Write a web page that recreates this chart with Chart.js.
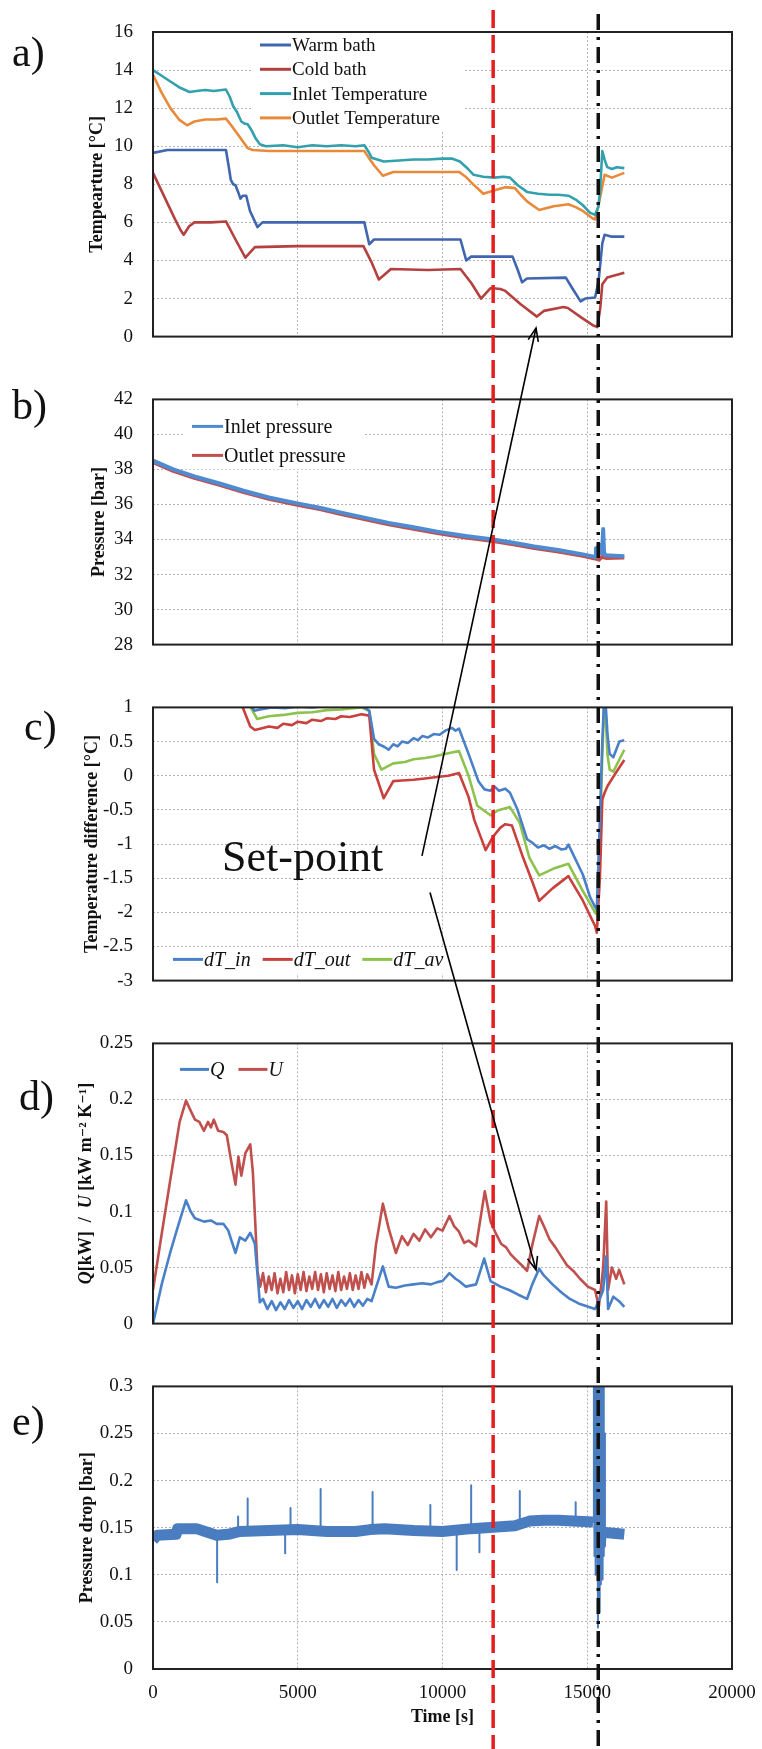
<!DOCTYPE html>
<html><head><meta charset="utf-8">
<script src="https://cdn.jsdelivr.net/npm/chart.js@4.4.1/dist/chart.umd.min.js"></script>
<style>
html,body{margin:0;padding:0;background:#fff;}
#wrap{position:relative;width:762px;height:1749px;overflow:hidden;background:#fff;}
canvas.c{position:absolute;left:0;}
#overlay{position:absolute;left:0;top:0;pointer-events:none;z-index:5;}
.lbl{position:absolute;font-family:"Liberation Serif","DejaVu Serif",serif;font-size:42px;line-height:42px;color:#111;white-space:nowrap;z-index:6;}
</style></head><body>
<div id="wrap">
<canvas id="cA" class="c" width="762" height="368" style="top:0px"></canvas>
<canvas id="cB" class="c" width="762" height="308" style="top:368px"></canvas>
<canvas id="cC" class="c" width="762" height="336" style="top:676px"></canvas>
<canvas id="cD" class="c" width="762" height="343" style="top:1012px"></canvas>
<canvas id="cE" class="c" width="762" height="394" style="top:1355px"></canvas>
<canvas id="overlay" width="762" height="1749"></canvas>
<div class="lbl" style="left:12px;top:31px">a)</div>
<div class="lbl" style="left:12px;top:384px">b)</div>
<div class="lbl" style="left:24px;top:705px">c)</div>
<div class="lbl" style="left:19px;top:1075px">d)</div>
<div class="lbl" style="left:12px;top:1400px">e)</div>
<div class="lbl" style="left:222px;top:835px;font-size:44px;line-height:44px">Set-point</div>
</div>
<script>
// ---------- DATA ----------
const xTicksMin = 0, xTicksMax = 20000, xTickStep = 5000;
// a) temperatures [s, °C]
const warmBath = [[0,9.65],[500,9.8],[1000,9.8],[2000,9.8],[2520,9.8],[2620,8.9],[2685,8.25],[2770,8.0],[2850,7.95],[2940,7.6],[3020,7.25],[3100,7.4],[3220,7.4],[3350,6.6],[3610,5.75],[3780,6.0],[5000,6.0],[6000,6.0],[7300,6.0],[7470,4.85],[7635,5.1],[9000,5.1],[10620,5.1],[10820,4.0],[10990,4.2],[12420,4.2],[12600,3.5],[12750,2.85],[12920,3.05],[14260,3.1],[14500,2.5],[14770,1.85],[14930,2.0],[15270,2.05],[15390,2.9],[15520,4.9],[15600,5.35],[15850,5.25],[16280,5.25]];
const coldBath = [[0,8.6],[250,7.8],[500,7.0],[750,6.2],[950,5.6],[1060,5.35],[1250,5.8],[1430,6.0],[2000,6.0],[2520,6.05],[2850,5.1],[3190,4.15],[3520,4.7],[5000,4.75],[7270,4.75],[7550,3.9],[7800,3.0],[8220,3.55],[9500,3.5],[10620,3.55],[11000,2.8],[11330,2.0],[11660,2.55],[12000,2.5],[12170,2.4],[12700,1.7],[13260,1.05],[13500,1.35],[14180,1.55],[14330,1.5],[14800,1.0],[15190,0.6],[15350,0.5],[15450,1.5],[15520,2.75],[15690,3.1],[16280,3.35]];
const inletTemp = [[0,14.0],[300,13.7],[600,13.4],[900,13.1],[1260,12.85],[1500,12.9],[1800,12.95],[2100,12.9],[2520,12.98],[2650,12.6],[2770,12.1],[2900,11.8],[3050,11.3],[3150,11.2],[3270,11.15],[3400,10.85],[3550,10.4],[3690,10.1],[3900,10.0],[4500,10.05],[5000,9.95],[5500,10.05],[6000,10.0],[6500,10.05],[7000,10.0],[7300,10.05],[7450,9.7],[7550,9.4],[7970,9.2],[8500,9.25],[9000,9.3],[9500,9.3],[10000,9.35],[10320,9.35],[10600,9.2],[10820,8.9],[11075,8.5],[11400,8.4],[11800,8.35],[12100,8.4],[12330,8.35],[12600,7.95],[12920,7.6],[13300,7.5],[13700,7.45],[14000,7.45],[14350,7.4],[14600,7.2],[14850,6.9],[15100,6.5],[15270,6.4],[15380,6.8],[15440,7.6],[15520,9.75],[15600,9.3],[15690,8.9],[15850,8.8],[16025,8.9],[16280,8.85]];
const outletTemp = [[0,13.75],[300,12.8],[600,12.0],[900,11.4],[1175,11.1],[1430,11.3],[1800,11.4],[2200,11.4],[2520,11.45],[2700,11.1],[2940,10.6],[3270,9.9],[3440,9.8],[4000,9.75],[5000,9.75],[6000,9.75],[7300,9.75],[7450,9.4],[7635,9.0],[7940,8.45],[8300,8.65],[9000,8.65],[10000,8.65],[10570,8.65],[10800,8.4],[10990,8.1],[11410,7.5],[11830,7.7],[12170,7.85],[12500,7.8],[12700,7.45],[12920,7.1],[13340,6.65],[13840,6.85],[14350,6.95],[14600,6.8],[14850,6.6],[15190,6.2],[15270,6.15],[15390,6.9],[15520,7.9],[15600,8.5],[15850,8.35],[16280,8.6]];
// b) pressures [s, bar]
const inletPressure = [[0,38.5],[700,38.0],[1430,37.6],[2300,37.2],[3100,36.8],[4000,36.4],[5030,36.05],[5800,35.8],[6460,35.55],[7300,35.25],[8140,34.95],[9000,34.7],[9820,34.45],[10800,34.2],[11750,34.0],[12500,33.8],[13170,33.6],[14000,33.4],[14850,33.15],[15270,33.0],[15300,33.5],[15340,33.1],[15380,33.6],[15420,33.2],[15470,33.7],[15510,33.2],[15550,34.6],[15580,33.3],[15620,33.1],[16280,33.05]];
const outletPressure = [[0,38.42],[700,37.92],[1430,37.52],[2300,37.12],[3100,36.72],[4000,36.32],[5030,35.97],[5800,35.72],[6460,35.47],[7300,35.17],[8140,34.87],[9000,34.62],[9820,34.37],[10800,34.12],[11750,33.92],[12500,33.72],[13170,33.52],[14000,33.32],[14850,33.07],[15270,32.92],[15400,32.85],[15500,33.0],[15650,32.95],[16280,32.97]];
// c) temperature differences [s, °C]
const dTin = [[0,1.6],[2500,1.5],[3000,1.3],[3300,1.1],[3500,0.95],[3700,0.97],[4100,1.0],[4600,0.99],[5000,1.01],[5500,1.0],[6000,1.02],[6500,1.01],[7200,1.03],[7470,0.95],[7635,0.54],[7800,0.46],[8000,0.42],[8140,0.38],[8300,0.46],[8450,0.43],[8600,0.5],[8800,0.48],[9000,0.55],[9150,0.52],[9300,0.58],[9500,0.56],[9700,0.61],[9900,0.6],[10100,0.66],[10320,0.7],[10450,0.66],[10570,0.69],[10900,0.32],[11240,-0.08],[11450,-0.2],[11660,-0.22],[11800,-0.16],[11950,-0.22],[12170,-0.19],[12330,-0.25],[12585,-0.49],[12920,-0.93],[13100,-0.98],[13300,-1.05],[13500,-1.02],[13700,-1.07],[13900,-1.03],[14100,-1.08],[14260,-1.07],[14350,-1.01],[14850,-1.45],[15100,-1.78],[15270,-1.92],[15330,-1.96],[15440,-0.58],[15520,0.5],[15600,1.3],[15700,0.6],[15775,0.32],[15900,0.27],[16110,0.5],[16280,0.52]];
const dTout = [[0,1.8],[2800,1.3],[3100,1.0],[3360,0.72],[3520,0.67],[3800,0.7],[4000,0.72],[4300,0.7],[4500,0.76],[4800,0.74],[5000,0.79],[5300,0.77],[5500,0.82],[5800,0.8],[6000,0.84],[6300,0.83],[6500,0.87],[6800,0.86],[7200,0.9],[7470,0.88],[7635,0.09],[7970,-0.33],[8300,-0.08],[8600,-0.07],[9000,-0.06],[9400,-0.04],[9800,-0.02],[10200,0.0],[10570,0.04],[10900,-0.31],[11100,-0.65],[11490,-1.09],[11750,-0.89],[12000,-0.76],[12170,-0.71],[12400,-0.73],[12750,-1.16],[13100,-1.55],[13340,-1.83],[13800,-1.65],[14350,-1.47],[14850,-1.83],[15270,-2.2],[15330,-2.3],[15440,-1.47],[15520,-0.35],[15600,-0.25],[15700,-0.15],[16000,0.05],[16280,0.23]];
const dTav = [[0,1.7],[3000,1.3],[3300,1.05],[3440,0.95],[3600,0.83],[4000,0.87],[4500,0.89],[5000,0.92],[5500,0.93],[6000,0.96],[6500,0.97],[7200,1.0],[7470,0.95],[7635,0.32],[7890,0.09],[8300,0.18],[8700,0.2],[9000,0.24],[9400,0.26],[9700,0.28],[10000,0.31],[10320,0.34],[10570,0.36],[10900,0.0],[11200,-0.44],[11660,-0.58],[11900,-0.51],[12330,-0.46],[12670,-0.69],[13000,-1.2],[13340,-1.46],[13840,-1.36],[14350,-1.29],[14850,-1.69],[15270,-2.0],[15330,-2.03],[15440,-1.02],[15520,0.3],[15600,1.2],[15700,0.3],[15775,0.09],[15900,0.06],[16280,0.38]];
// d) Q [kW] and U [kW m-2 K-1]
const heatQ = [[0,0.0],[300,0.035],[590,0.063],[900,0.09],[1140,0.11],[1300,0.1],[1450,0.094],[1760,0.091],[2000,0.092],[2200,0.089],[2430,0.089],[2600,0.083],[2850,0.063],[3000,0.077],[3190,0.074],[3360,0.081],[3520,0.071],[3690,0.019],[3800,0.022],[3950,0.013],[4100,0.02],[4250,0.012],[4400,0.019],[4550,0.013],[4700,0.021],[4850,0.014],[5000,0.02],[5150,0.013],[5300,0.021],[5450,0.015],[5600,0.022],[5750,0.014],[5900,0.021],[6050,0.015],[6200,0.022],[6350,0.014],[6500,0.021],[6650,0.016],[6800,0.022],[6950,0.015],[7100,0.021],[7250,0.016],[7400,0.022],[7550,0.02],[7940,0.051],[8140,0.033],[8390,0.032],[8700,0.034],[9000,0.035],[9300,0.036],[9600,0.035],[9820,0.037],[10000,0.038],[10240,0.045],[10450,0.04],[10570,0.038],[10800,0.033],[11160,0.035],[11440,0.058],[11660,0.038],[12000,0.033],[12300,0.03],[12600,0.026],[12920,0.022],[13100,0.035],[13340,0.049],[13500,0.043],[13800,0.035],[14100,0.028],[14400,0.022],[14700,0.018],[14930,0.016],[15270,0.013],[15400,0.02],[15550,0.03],[15655,0.06],[15720,0.013],[15900,0.024],[16100,0.02],[16280,0.015]];
const heatU = [[0,0.03],[300,0.08],[590,0.127],[920,0.18],[1140,0.199],[1300,0.19],[1450,0.182],[1600,0.18],[1760,0.172],[1900,0.18],[2000,0.175],[2100,0.182],[2250,0.172],[2430,0.171],[2550,0.168],[2700,0.145],[2850,0.124],[2950,0.149],[3050,0.132],[3190,0.152],[3360,0.16],[3450,0.135],[3610,0.047],[3700,0.033],[3800,0.045],[3900,0.028],[4000,0.042],[4100,0.03],[4200,0.045],[4300,0.027],[4400,0.04],[4500,0.028],[4600,0.046],[4700,0.03],[4800,0.043],[4900,0.027],[5000,0.044],[5100,0.03],[5200,0.046],[5300,0.029],[5400,0.042],[5500,0.031],[5600,0.046],[5700,0.03],[5800,0.044],[5900,0.028],[6000,0.045],[6100,0.031],[6200,0.043],[6300,0.029],[6400,0.046],[6500,0.03],[6600,0.042],[6700,0.031],[6800,0.045],[6900,0.03],[7000,0.043],[7100,0.031],[7200,0.046],[7300,0.032],[7400,0.044],[7550,0.035],[7700,0.07],[7940,0.107],[8140,0.085],[8390,0.063],[8600,0.078],[8800,0.07],[9000,0.08],[9200,0.074],[9400,0.084],[9600,0.077],[9820,0.085],[10000,0.083],[10240,0.096],[10400,0.087],[10570,0.082],[10750,0.072],[10900,0.074],[11160,0.069],[11460,0.118],[11660,0.091],[11850,0.08],[12030,0.071],[12200,0.068],[12350,0.062],[12500,0.058],[12700,0.053],[12920,0.047],[13100,0.07],[13340,0.096],[13500,0.087],[13700,0.075],[13900,0.068],[14100,0.06],[14300,0.052],[14520,0.047],[14750,0.04],[15020,0.033],[15270,0.03],[15400,0.015],[15550,0.05],[15655,0.109],[15720,0.03],[15850,0.05],[16000,0.04],[16100,0.048],[16280,0.035]];
// e) pressure drop [s, bar]
const dropBase = [[0,0.137],[150,0.142],[800,0.143],[850,0.149],[1500,0.149],[1800,0.146],[2200,0.142],[2600,0.143],[3000,0.146],[4000,0.147],[5000,0.148],[6000,0.146],[7000,0.146],[7500,0.148],[8000,0.149],[9000,0.147],[10000,0.146],[11000,0.149],[12000,0.151],[12500,0.152],[13000,0.157],[13500,0.158],[14000,0.158],[14500,0.157],[15200,0.156],[15400,null],[15620,0.145],[16280,0.143]];
const dropSpikeT = [2215,2940,3270,4565,4750,5790,7585,9580,10490,10990,11275,12670,14600];
const dropSpikeV = [0.092,0.162,0.181,0.123,0.171,0.191,0.188,0.174,0.105,0.195,0.124,0.189,0.177];
const dropSpikeBase = [0.142,0.146,0.146,0.147,0.147,0.146,0.148,0.147,0.147,0.149,0.149,0.152,0.157];
const dropBurst = [[15200,0.156],[15230,0.31],[15250,0.12],[15270,0.31],[15290,0.1],[15310,0.31],[15330,0.13],[15350,0.31],[15370,0.044],[15390,0.31],[15410,0.06],[15430,0.31],[15450,0.09],[15470,0.31],[15490,0.1],[15510,0.31],[15530,0.095],[15550,0.31],[15570,0.12],[15590,0.25],[15610,0.13],[15630,0.145]];
// markers
const setPointLineT = 11750;   // red dashed
const restartLineT = 15380;    // black dash-dot
const arrowTails = [[9291,-1.175],[9568,-1.71]];           // in panel c
const arrowTips = [['A',13230,0.45],['D',13230,0.048]];    // panels a, d

// ---------- HELPERS ----------
const SERIF = '"Liberation Serif","DejaVu Serif",serif';
const pts = a => a.map(p => ({x:p[0], y:p[1]}));
const fmt = v => String(Math.round(v*100)/100);

const framePlugin = {
  id:'frameLegend',
  afterDatasetsDraw(chart, args, o){
    const {ctx, chartArea:ca} = chart;
    ctx.save();
    if (o && o.show){
      if (o.box){ ctx.fillStyle='#fff'; ctx.fillRect(ca.left+o.box[0], ca.top+o.box[1], o.box[2], o.box[3]); }
      ctx.font = (o.italic?'italic ':'') + o.size + 'px ' + SERIF;
      ctx.textBaseline='middle'; ctx.textAlign='left';
      let x = ca.left + o.x, y = ca.top + o.y;
      chart.data.datasets.forEach(ds => {
        if (!ds.label) return;
        ctx.strokeStyle = ds.borderColor; ctx.lineWidth = 3; ctx.lineCap='butt';
        ctx.beginPath(); ctx.moveTo(x, y); ctx.lineTo(x + o.line, y); ctx.stroke();
        ctx.fillStyle = '#111';
        ctx.fillText(ds.label, x + o.line + 1, y + 1);
        if (o.horizontal) x += o.line + 1 + ctx.measureText(ds.label).width + o.gap;
        else y += o.dy;
      });
    }
    ctx.strokeStyle = '#222'; ctx.lineWidth = 2;
    ctx.strokeRect(ca.left, ca.top, ca.right-ca.left, ca.bottom-ca.top);
    ctx.restore();
  },
  afterDraw(chart, args, o){
    if (!o || !o.richTitle) return;
    const {ctx, chartArea:ca} = chart;
    const segs = o.richTitle.parts;
    ctx.save();
    ctx.translate(o.richTitle.x, (ca.top+ca.bottom)/2);
    ctx.rotate(-Math.PI/2);
    ctx.textBaseline='middle'; ctx.textAlign='left'; ctx.fillStyle='#111';
    let total = 0;
    segs.forEach(s => { ctx.font = s[1] + ' 18px ' + SERIF; total += ctx.measureText(s[0]).width; });
    let x = -total/2;
    segs.forEach(s => { ctx.font = s[1] + ' 18px ' + SERIF; ctx.fillText(s[0], x, 0); x += ctx.measureText(s[0]).width; });
    ctx.restore();
  }
};

function makeChart(id, c){
  return new Chart(document.getElementById(id), {
    type:'line',
    data:{datasets:c.datasets},
    options:{
      responsive:false, animation:false, devicePixelRatio:1,
      layout:{padding:{left:0, right:30, top:c.padTop, bottom:c.padBottom}},
      elements:{point:{radius:0}, line:{tension:0, borderJoinStyle:'round', borderCapStyle:'butt'}},
      plugins:{legend:{display:false}, tooltip:{enabled:false}, frameLegend:c.legend},
      scales:{
        x:{type:'linear', min:xTicksMin, max:xTicksMax,
           ticks:{stepSize:xTickStep, display:!!c.showX, color:'#111', padding:0, maxRotation:0,
                  font:{family:SERIF, size:19, lineHeight:48/19}, callback:v=>String(v)},
           grid:{color:'#b5b5b5', lineWidth:1, drawTicks:false},
           border:{display:false, dash:[2,2]},
           title:{display:!!c.showX, text:'Time [s]', color:'#111', font:{family:SERIF, size:18, weight:'bold'}, padding:{top:0,bottom:1}},
           afterFit:s=>{ s.height = c.showX ? 60 : 0; }},
        y:{min:c.yMin, max:c.yMax,
           ticks:{stepSize:c.yStep, color:'#111', padding:20, font:{family:SERIF, size:19}, callback:fmt},
           grid:{color:'#b5b5b5', lineWidth:1, drawTicks:false},
           border:{display:false, dash:[2,2]},
           title:{display:!!c.yTitle, text:c.yTitle, color:'#111', font:{family:SERIF, size:18, weight:'bold'}, padding:{top:c.titleX-10.8, bottom:0}},
           afterFit:s=>{ s.width = 153; }}
      }
    },
    plugins:[framePlugin]
  });
}
const line = (label, data, color, w) => ({label, data:pts(data), borderColor:color, backgroundColor:color, borderWidth:w, fill:false, spanGaps:false});

// ---------- CHARTS ----------
const chA = makeChart('cA', {padTop:32, padBottom:16, yMin:0, yMax:16, yStep:2, yTitle:'Tempearture [°C]', titleX:97,
  legend:{show:true, x:107, y:13, dy:24.3, line:31, size:19, box:[100,1,212,97]},
  datasets:[line('Warm bath', warmBath, '#3F66AE', 2.6), line('Cold bath', coldBath, '#B3413F', 2.6),
            line('Inlet Temperature', inletTemp, '#33A1AD', 2.6), line('Outlet Temperature', outletTemp, '#E98A3A', 2.6)]});
const chB = makeChart('cB', {padTop:15, padBottom:18, yMin:28, yMax:42, yStep:2, yTitle:'Pressure [bar]', titleX:99,
  legend:{show:true, x:39, y:27, dy:29, line:31, size:20, box:[30,8,180,62]},
  datasets:[line('Inlet pressure', inletPressure, '#4F8BD0', 4), line('Outlet pressure', outletPressure, '#C24F4D', 4)]});
const chC = makeChart('cC', {padTop:20, padBottom:18, yMin:-3, yMax:1, yStep:0.5, yTitle:'Temperature difference [°C]', titleX:92,
  legend:{show:true, horizontal:true, italic:true, x:20, y:252, line:30, gap:12, size:20, box:[12,240,290,26]},
  datasets:[line('dT_in', dTin, '#4A80C8', 2.6), line('dT_out', dTout, '#C8413D', 2.6), line('dT_av', dTav, '#8DC24C', 2.6)]});
const chD = makeChart('cD', {padTop:20, padBottom:22, yMin:0, yMax:0.25, yStep:0.05, yTitle:'', titleX:86,
  legend:{show:true, horizontal:true, italic:true, x:27, y:26, line:29, gap:14, size:20,
          richTitle:{x:86, parts:[['Q','italic bold'],['[kW]  /  ','bold'],['U','italic bold'],[' [kW m⁻² K⁻¹]','bold']]}},
  datasets:[line('Q', heatQ, '#4A80C8', 2.6), line('U', heatU, '#C0504D', 2.6)]});
const spikeData = [];
dropSpikeT.forEach((t,i)=>{ spikeData.push([t,dropSpikeBase[i]],[t,dropSpikeV[i]],[t,dropSpikeBase[i]],[t,null]); });
const chE = makeChart('cE', {padTop:23, padBottom:20, yMin:0, yMax:0.3, yStep:0.05, yTitle:'Pressure drop [bar]', titleX:87, showX:true,
  legend:{show:false},
  datasets:[line('', dropBase, '#4A7DC0', 11), line('', spikeData, '#4A7DC0', 2), line('', dropBurst, '#4A7DC0', 2)]});

// ---------- OVERLAY (marker lines & arrows) ----------
const charts = {A:[chA,0], B:[chB,368], C:[chC,676], D:[chD,1012], E:[chE,1355]};
const px = (k,t) => charts[k][0].scales.x.getPixelForValue(t);
const py = (k,v) => charts[k][1] + charts[k][0].scales.y.getPixelForValue(v);
const ov = document.getElementById('overlay').getContext('2d');
ov.save();
ov.lineCap='butt';
ov.strokeStyle='#E3201F'; ov.lineWidth=3.5; ov.setLineDash([18,7]);
let xr = px('A', setPointLineT);
ov.beginPath(); ov.moveTo(xr, 10); ov.lineTo(xr, 1749); ov.stroke();
ov.strokeStyle='#111'; ov.lineWidth=3.5; ov.setLineDash([16,7,3,7]);
let xb = px('A', restartLineT);
ov.beginPath(); ov.moveTo(xb, 14); ov.lineTo(xb, 1749); ov.stroke();
ov.setLineDash([]);
ov.strokeStyle='#000'; ov.lineWidth=1.6;
arrowTails.forEach((tl,i)=>{
  const x0 = px('C', tl[0]), y0 = py('C', tl[1]);
  const tp = arrowTips[i];
  const x1 = px(tp[0], tp[1]), y1 = py(tp[0], tp[2]);
  ov.beginPath(); ov.moveTo(x0,y0); ov.lineTo(x1,y1); ov.stroke();
  const ang = Math.atan2(y1-y0, x1-x0), L = 14, a = 0.38;
  ov.beginPath();
  ov.moveTo(x1 - L*Math.cos(ang-a), y1 - L*Math.sin(ang-a));
  ov.lineTo(x1, y1);
  ov.lineTo(x1 - L*Math.cos(ang+a), y1 - L*Math.sin(ang+a));
  ov.stroke();
});
ov.restore();
</script>
</body></html>
